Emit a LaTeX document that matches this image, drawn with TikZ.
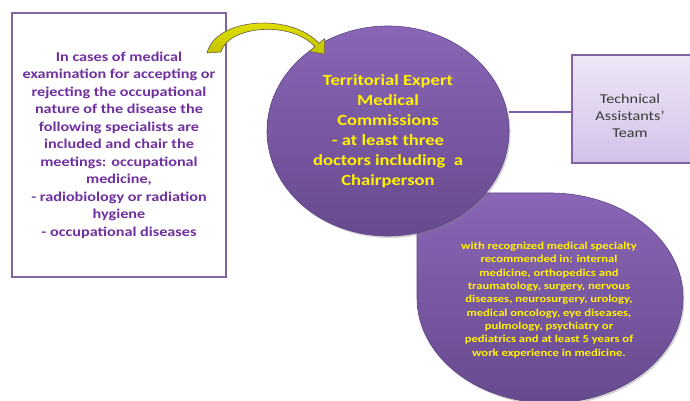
\documentclass[tikz,border=0pt]{standalone}
\usepackage{fontspec}
\setmainfont{Carlito}[FakeStretch=1.2]
\usetikzlibrary{shapes.geometric,shadows}
\definecolor{boxpurple}{HTML}{8064A2}
\definecolor{textpurple}{HTML}{7030A0}
\definecolor{ovaltop}{HTML}{8A66B6}
\definecolor{ovalbot}{HTML}{674A8E}
\definecolor{ovaledge}{HTML}{5E4386}
\definecolor{techtop}{HTML}{EEE6F6}
\definecolor{techbot}{HTML}{D3C2E9}
\definecolor{arrowtop}{HTML}{E8E800}
\definecolor{arrowbot}{HTML}{C2C200}
\definecolor{arrowedge}{HTML}{6E5A48}
\definecolor{linkpurple}{HTML}{7A5CA8}
\definecolor{techtext}{HTML}{3A3A3A}

\begin{document}
\begin{tikzpicture}[x=1pt,y=1pt,
  oval/.style={draw=ovaledge, line width=0.6pt, top color=ovaltop, bottom color=ovalbot,
    drop shadow={opacity=0.35, shadow xshift=1.5pt, shadow yshift=-2pt}},
  yellowtext/.style={text=yellow, align=center, font=\bfseries},
  exambox/.style={draw=boxpurple, line width=1.5pt, fill=white, inner sep=0pt,
    minimum width=214pt, minimum height=264pt, align=center, text=textpurple,
    font=\fontsize{13.5}{17.5}\selectfont\bfseries},
  techbox/.style={draw=boxpurple, line width=1.2pt, top color=techtop, bottom color=techbot,
    inner sep=0pt, drop shadow={opacity=0.25, shadow xshift=1pt, shadow yshift=-1.5pt}},
  link/.style={draw=linkpurple, line width=2pt},
  curvedarrow/.style={draw=arrowedge, line width=0.6pt, top color=arrowtop, bottom color=arrowbot,
    line join=round}
]
\useasboundingbox (0,0) rectangle (690,401);

% specialty requirements: oval with one square corner
\path[oval] (417,208) -- (550,208)
  arc[start angle=90, end angle=-180, x radius=133pt, y radius=105pt] -- cycle;
\node[yellowtext, font=\fontsize{10.5}{13.3}\selectfont\bfseries] (spec) at (549,101)
  {with recognized medical specialty\\
   recommended in: internal\\
   medicine, orthopedics and\\
   traumatology, surgery, nervous\\
   diseases, neurosurgery, urology,\\
   medical oncology, eye diseases,\\
   pulmology, psychiatry or\\
   pediatrics and at least 5 years of\\
   work experience in medicine.};

% commissions
\node[oval, ellipse, minimum width=242pt, minimum height=210pt, inner sep=0pt,
  yellowtext, font=\fontsize{15.5}{20}\selectfont\bfseries] (comm) at (388,270)
  {Territorial Expert\\
   Medical\\
   Commissions\\
   - at least three\\
   doctors including\ \ a\\
   Chairperson};

% technical assistants
\node[techbox, minimum width=128pt, minimum height=108pt] (tech) at (636,292) {};
\node[text=techtext, align=center, font=\fontsize{13.5}{17}\selectfont] (techlbl) at (630,285)
  {Technical\\ Assistants’\\ Team};
\draw[link] (tech.west |- 0,289) -- (comm.east |- 0,289);

% specialists box
\node[exambox] (exam) at (119,256)
  {In cases of medical\\
   examination for accepting or\\
   rejecting the occupational\\
   nature of the disease the\\
   following specialists are\\
   included and chair the\\
   meetings: occupational\\
   medicine,\\
   - radiobiology or radiation\\
   hygiene\\
   - occupational diseases};

% curved arrow from the specialists box to the commissions
\path[curvedarrow] (221,349) .. controls (228,375) and (290,381) .. (315,354.4)
  -- (309.3,349.6) -- (324.7,346.8) -- (324.7,362.4) -- (319,357.6)
  .. controls (292,388) and (216,384) .. (207,348) -- cycle;
\end{tikzpicture}
\end{document}
